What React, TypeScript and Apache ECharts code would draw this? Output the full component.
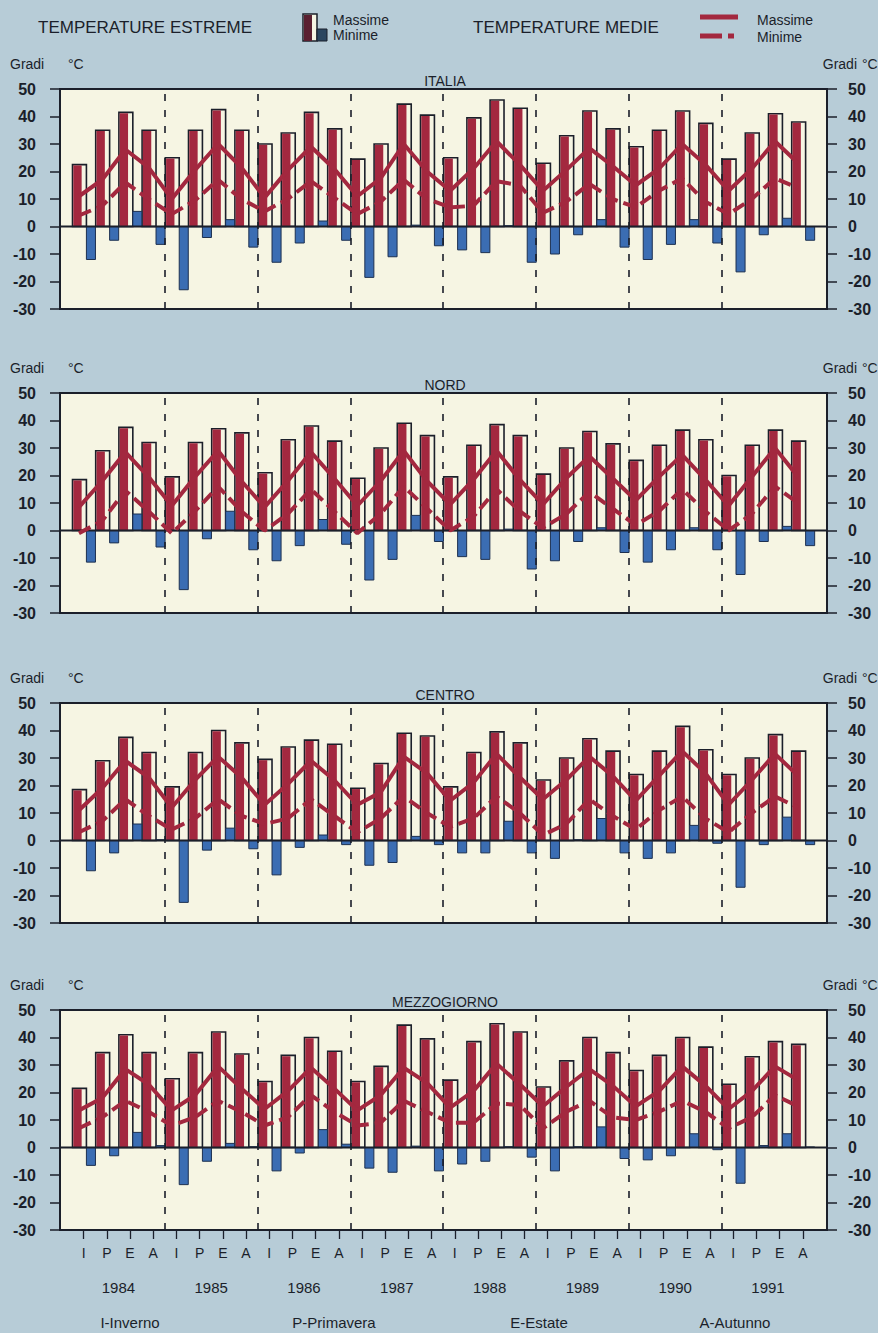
import React, { useEffect, useRef } from "react";
import * as echarts from "echarts";

// ---------- data ----------
const seasons = ["I", "P", "E", "A"];
const years = ["1984", "1985", "1986", "1987", "1988", "1989", "1990", "1991"];
const categories = years.flatMap((y) => seasons.map((s) => `${s}-${y}`));
const panelNames = ["ITALIA", "NORD", "CENTRO", "MEZZOGIORNO"];
const seasonLegend = ["I-Inverno", "P-Primavera", "E-Estate", "A-Autunno"];

// ITALIA
const italiaMaxExt = [22.5, 35, 41.5, 35, 25, 35, 42.5, 35, 30, 34, 41.5, 35.5, 24.5, 30, 44.5, 40.5, 25, 39.5, 46, 43, 23, 33, 42, 35.5, 29, 35, 42, 37.5, 24.5, 34, 41, 38];
const italiaMinExt = [-12, -5, 5.5, -6.5, -23, -4, 2.5, -7.5, -13, -6, 2, -5, -18.5, -11, 0.5, -7, -8.5, -9.5, 0.3, -13, -10, -3, 2.5, -7.5, -12, -6.5, 2.5, -6, -16.5, -3, 3, -5];
const italiaMeanMax = [11, 17, 28, 21.5, 10, 20.5, 30, 21.5, 10.5, 20.5, 29, 21, 11, 17.5, 30, 20, 13, 21, 31, 22.5, 13, 20.5, 28.5, 22, 15, 21, 30, 22.5, 13, 21, 31, 23];
const italiaMeanMin = [4, 7.5, 16, 10, 4.5, 9.5, 17, 10, 5.5, 10, 16.5, 10.5, 4.5, 9, 17, 10, 7, 7.5, 16.5, 15, 5, 9, 15.5, 10, 7, 13, 17.5, 9, 4.5, 10, 17.5, 14];

// NORD
const nordMaxExt = [18.5, 29, 37.5, 32, 19.5, 32, 37, 35.5, 21, 33, 38, 32.5, 19, 30, 39, 34.5, 19.5, 31, 38.5, 34.5, 20.5, 30, 36, 31.5, 25.5, 31, 36.5, 33, 20, 31, 36.5, 32.5];
const nordMinExt = [-11.5, -4.5, 6, -6, -21.5, -3, 7, -7, -11, -5.5, 4, -5, -18, -10.5, 5.5, -4, -9.5, -10.5, 0.5, -14, -11, -4, 1, -8, -11.5, -7, 1, -7, -16, -4, 1.5, -5.5];
const nordMeanMax = [8.5, 18, 28.5, 19.5, 9, 19.5, 29, 18, 8.5, 18, 28.5, 19, 9, 18, 29, 18, 9.5, 18.5, 29, 18.5, 9.5, 19, 27, 19, 11, 19.5, 27.5, 18.5, 9, 19.5, 30, 19.5];
const nordMeanMin = [-1, 3.5, 14.5, 7, -1, 7, 16, 7, 0, 6, 15, 7, -1, 6, 16, 8, 0, 5, 15, 7, 1, 6, 14, 8, 2, 7, 15, 7, 0, 6, 16, 10];

// CENTRO
const centroMaxExt = [18.5, 29, 37.5, 32, 19.5, 32, 40, 35.5, 29.5, 34, 36.5, 35, 19, 28, 39, 38, 19.5, 32, 39.5, 35.5, 22, 30, 37, 32.5, 24, 32.5, 41.5, 33, 24, 30, 38.5, 32.5];
const centroMinExt = [-11, -4.5, 6, 0.3, -22.5, -3.5, 4.5, -3, -12.5, -2.5, 2, -1.5, -9, -8, 1.5, -1.5, -4.5, -4.5, 7, -4.5, -6.5, 0.3, 8, -4.5, -6.5, -4.5, 5.5, -1, -17, -1.5, 8.5, -1.5];
const centroMeanMax = [11, 19, 29, 23, 12, 22, 30.5, 23, 13, 20.5, 29, 22, 13, 17.5, 30.5, 24.5, 14.5, 21, 31.5, 23, 15, 22, 30.5, 23.5, 14.5, 23.5, 32.5, 24.5, 13, 22, 31.5, 23.5];
const centroMeanMin = [3, 7, 15, 9, 4, 8, 15, 9, 6, 8, 15, 9, 3, 8, 16, 10, 5, 8, 16, 10, 2, 6, 15, 9, 4, 11, 16, 8, 3, 10, 16, 12];

// MEZZOGIORNO
const mezzMaxExt = [21.5, 34.5, 41, 34.5, 25, 34.5, 42, 34, 24, 33.5, 40, 35, 24, 29.5, 44.5, 39.5, 24.5, 38.5, 45, 42, 22, 31.5, 40, 34.5, 28, 33.5, 40, 36.5, 23, 33, 38.5, 37.5];
const mezzMinExt = [-6.5, -3, 5.5, 0.7, -13.5, -5, 1.5, 0.3, -8.5, -2, 6.5, 1.2, -7.5, -9, 0.5, -8.5, -6, -5, 0.3, -3.5, -8.5, 0.3, 7.5, -4, -4.5, -3, 5, -0.8, -13, 0.7, 5, 0.2];
const mezzMeanMax = [13.5, 18, 28.5, 23, 13.5, 19, 29.5, 21.5, 14, 20.5, 29, 21.5, 13.5, 19, 29, 23.5, 14.5, 20.5, 30.5, 23, 15, 22, 28.5, 22.5, 15, 20.5, 29.5, 22.5, 14, 20.5, 29.5, 24.5];
const mezzMeanMin = [7, 11, 17, 13, 8, 11, 17, 13, 8, 11, 19, 13, 8, 9, 17, 13, 9, 9, 16, 15.5, 7, 13, 17, 11, 10, 13, 17, 13, 7, 11, 19, 15];

const maxExt = [italiaMaxExt, nordMaxExt, centroMaxExt, mezzMaxExt];
const minExt = [italiaMinExt, nordMinExt, centroMinExt, mezzMinExt];
const meanMax = [italiaMeanMax, nordMeanMax, centroMeanMax, mezzMeanMax];
const meanMin = [italiaMeanMin, nordMeanMin, centroMeanMin, mezzMeanMin];

// ---------- style ----------
const BG = "#b7ccd7";
const CREAM = "#f6f5e3";
const INK = "#1b1f2a";
const RED = "#a3283f";
const BLUE = "#3b6db3";
const FONT = "'Liberation Sans', Arial, Helvetica, sans-serif";

const W = 878;
const H = 1333;
const FRAME_L = 60;
const FRAME_W = 767;
const DATA_L = 72;
const DATA_W = 742.4;
const PANEL_TOPS = [89, 393, 703, 1010];
const PANEL_H = 220;

function renderMax(_params: any, api: any) {
  const idx = api.value(0);
  const v = api.value(1);
  const top = api.coord([idx, v]);
  const base = api.coord([idx, 0]);
  const bw = api.size([1, 0])[0];
  const x0 = top[0] - bw / 2 + 0.5;
  const w = bw * 0.6;
  const h = base[1] - top[1];
  return {
    type: "group",
    children: [
      { type: "rect", shape: { x: x0, y: top[1], width: w, height: h }, style: { fill: CREAM, stroke: INK, lineWidth: 1.6 } },
      { type: "rect", shape: { x: x0 + 0.8, y: top[1] + 0.8, width: w * 0.6, height: h - 0.8 }, style: { fill: RED } },
    ],
  };
}

function renderMin(_params: any, api: any) {
  const idx = api.value(0);
  const v = api.value(1);
  const p = api.coord([idx, v]);
  const base = api.coord([idx, 0]);
  const bw = api.size([1, 0])[0];
  const x0 = p[0] - bw / 2 + 0.5 + bw * 0.6;
  const w = bw * 0.39;
  const y = Math.min(p[1], base[1]);
  const h = Math.abs(base[1] - p[1]);
  return { type: "rect", shape: { x: x0, y, width: w, height: h }, style: { fill: BLUE, stroke: "#1d3050", lineWidth: 1 } };
}

function buildOption() {
  const grid: any[] = [];
  const xAxis: any[] = [];
  const yAxis: any[] = [];
  const series: any[] = [];
  const graphic: any[] = [];
  const boundaries = years.slice(1).map((_, k) => (k + 1) * seasons.length);

  panelNames.forEach((name, p) => {
    const top = PANEL_TOPS[p];
    const gFrame = p * 2;
    const gData = p * 2 + 1;
    grid.push({ left: FRAME_L, top, width: FRAME_W, height: PANEL_H, show: true, backgroundColor: CREAM, borderColor: INK, borderWidth: 2 });
    grid.push({ left: DATA_L, top, width: DATA_W, height: PANEL_H });

    const xb = xAxis.length;
    // frame x (for zero line)
    xAxis.push({ type: "value", gridIndex: gFrame, min: 0, max: 1, show: false });
    // category axis
    const isLast = p === panelNames.length - 1;
    xAxis.push({
      type: "category",
      gridIndex: gData,
      data: categories,
      boundaryGap: true,
      show: isLast,
      position: "bottom",
      axisLine: { show: true, onZero: false, lineStyle: { color: INK, width: 2 } },
      axisTick: { show: isLast, alignWithLabel: true, length: 9, lineStyle: { color: INK, width: 1.3 } },
      axisLabel: { show: isLast, formatter: (v: string) => v.charAt(0), margin: 16, fontSize: 14, fontFamily: FONT, color: INK, interval: 0 },
      splitLine: { show: false },
    });
    // line axis (points at the max-bar centres)
    xAxis.push({ type: "value", gridIndex: gData, min: -0.3, max: categories.length - 0.3, show: false });
    // separator axis
    xAxis.push({ type: "value", gridIndex: gData, min: 0, max: categories.length, show: false });

    const yb = yAxis.length;
    const yCommon = {
      type: "value",
      gridIndex: gFrame,
      min: -30,
      max: 50,
      interval: 10,
      axisLine: { show: false },
      axisTick: { show: true, length: 10, lineStyle: { color: INK, width: 1.5 } },
      splitLine: { show: false },
    };
    yAxis.push({ ...yCommon, position: "left", axisLabel: { margin: 24, fontSize: 16, fontWeight: "bold", fontFamily: FONT, color: INK } });
    yAxis.push({ ...yCommon, position: "right", axisLabel: { margin: 21, fontSize: 16, fontWeight: "bold", fontFamily: FONT, color: INK } });
    yAxis.push({ type: "value", gridIndex: gData, min: -30, max: 50, show: false });

    series.push({
      type: "custom",
      name: `${name} massime estreme`,
      xAxisIndex: xb + 1,
      yAxisIndex: yb + 2,
      renderItem: renderMax,
      encode: { x: 0, y: 1 },
      data: maxExt[p].map((v, i) => [i, v]),
      z: 2,
      silent: true,
    });
    series.push({
      type: "custom",
      name: `${name} minime estreme`,
      xAxisIndex: xb + 1,
      yAxisIndex: yb + 2,
      renderItem: renderMin,
      encode: { x: 0, y: 1 },
      data: minExt[p].map((v, i) => [i, v]),
      z: 2,
      silent: true,
    });
    // year separators
    series.push({
      type: "line",
      xAxisIndex: xb + 3,
      yAxisIndex: yb + 2,
      data: [[0, 0]],
      showSymbol: false,
      lineStyle: { opacity: 0 },
      z: 3,
      silent: true,
      markLine: {
        silent: true,
        symbol: ["none", "none"],
        label: { show: false },
        lineStyle: { type: [7, 9], color: INK, width: 1.6 },
        data: boundaries.map((b) => ({ xAxis: b })),
      },
    });
    // zero line
    series.push({
      type: "line",
      xAxisIndex: xb,
      yAxisIndex: yb,
      data: [[0, 0], [1, 0]],
      showSymbol: false,
      lineStyle: { color: INK, width: 2.2 },
      z: 4,
      silent: true,
    });
    series.push({
      type: "line",
      name: `${name} medie massime`,
      xAxisIndex: xb + 2,
      yAxisIndex: yb + 2,
      data: meanMax[p].map((v, i) => [i, v]),
      showSymbol: false,
      lineStyle: { color: RED, width: 4 },
      z: 5,
      silent: true,
    });
    series.push({
      type: "line",
      name: `${name} medie minime`,
      xAxisIndex: xb + 2,
      yAxisIndex: yb + 2,
      data: meanMin[p].map((v, i) => [i, v]),
      showSymbol: false,
      lineStyle: { color: RED, width: 4, type: [13, 6] },
      z: 5,
      silent: true,
    });

    if (isLast) {
      xAxis.push({
        type: "category",
        gridIndex: gData,
        data: years,
        position: "bottom",
        offset: 42,
        axisLine: { show: false, onZero: false },
        axisTick: { show: false },
        axisLabel: { margin: 8, fontSize: 15, fontFamily: FONT, color: INK, interval: 0 },
      });
    }

    // panel texts
    graphic.push({ type: "text", x: 445, y: top - 8, style: { text: name, fill: INK, fontSize: 14, fontFamily: FONT, textAlign: "center", textVerticalAlign: "middle" }, z: 10 });
    graphic.push({ type: "text", x: 10, y: top - 25, style: { text: "Gradi", fill: INK, fontSize: 14, fontFamily: FONT, textAlign: "left", textVerticalAlign: "middle" } });
    graphic.push({ type: "text", x: 68, y: top - 25, style: { text: "°C", fill: INK, fontSize: 14, fontFamily: FONT, textAlign: "left", textVerticalAlign: "middle" } });
    graphic.push({ type: "text", x: 857, y: top - 25, style: { text: "Gradi", fill: INK, fontSize: 14, fontFamily: FONT, textAlign: "right", textVerticalAlign: "middle" } });
    graphic.push({ type: "text", x: 862, y: top - 25, style: { text: "°C", fill: INK, fontSize: 14, fontFamily: FONT, textAlign: "left", textVerticalAlign: "middle" } });
  });

  // header legend
  const hdr = (text: string, x: number, y: number, size: number) => ({
    type: "text",
    x,
    y,
    style: { text, fill: INK, fontSize: size, fontFamily: FONT, textAlign: "left", textVerticalAlign: "middle" },
  });
  graphic.push(hdr("TEMPERATURE ESTREME", 38, 27, 17));
  graphic.push({ type: "rect", shape: { x: 303, y: 14, width: 14, height: 27 }, style: { fill: CREAM, stroke: INK, lineWidth: 1.5 } });
  graphic.push({ type: "rect", shape: { x: 304, y: 15, width: 8, height: 26 }, style: { fill: "#5a1f30" } });
  graphic.push({ type: "rect", shape: { x: 317, y: 29, width: 10, height: 12 }, style: { fill: "#2b4660", stroke: INK, lineWidth: 1 } });
  graphic.push(hdr("Massime", 333, 20, 14));
  graphic.push(hdr("Minime", 333, 35, 14));
  graphic.push(hdr("TEMPERATURE MEDIE", 473, 27, 17));
  graphic.push({ type: "line", shape: { x1: 700, y1: 17, x2: 738, y2: 17 }, style: { stroke: RED, lineWidth: 5 } });
  graphic.push({ type: "line", shape: { x1: 700, y1: 36, x2: 722, y2: 36 }, style: { stroke: RED, lineWidth: 5 } });
  graphic.push({ type: "line", shape: { x1: 728, y1: 36, x2: 734, y2: 36 }, style: { stroke: RED, lineWidth: 5 } });
  graphic.push(hdr("Massime", 757, 20, 14));
  graphic.push(hdr("Minime", 757, 37, 14));

  // season legend
  const legendX = [130, 334, 539, 735];
  seasonLegend.forEach((t, k) => {
    graphic.push({ type: "text", x: legendX[k], y: 1322, style: { text: t, fill: INK, fontSize: 15, fontFamily: FONT, textAlign: "center", textVerticalAlign: "middle" } });
  });

  return {
    animation: false,
    backgroundColor: BG,
    grid,
    xAxis,
    yAxis,
    series,
    graphic: { elements: graphic },
  };
}

export default function App() {
  const ref = useRef<HTMLDivElement>(null);
  useEffect(() => {
    if (!ref.current) return;
    const chart = echarts.init(ref.current, undefined, { renderer: "svg", width: W, height: H });
    chart.setOption(buildOption() as any);
    return () => chart.dispose();
  }, []);
  return <div ref={ref} style={{ position: "absolute", left: 0, top: 0, width: W, height: H }} />;
}
